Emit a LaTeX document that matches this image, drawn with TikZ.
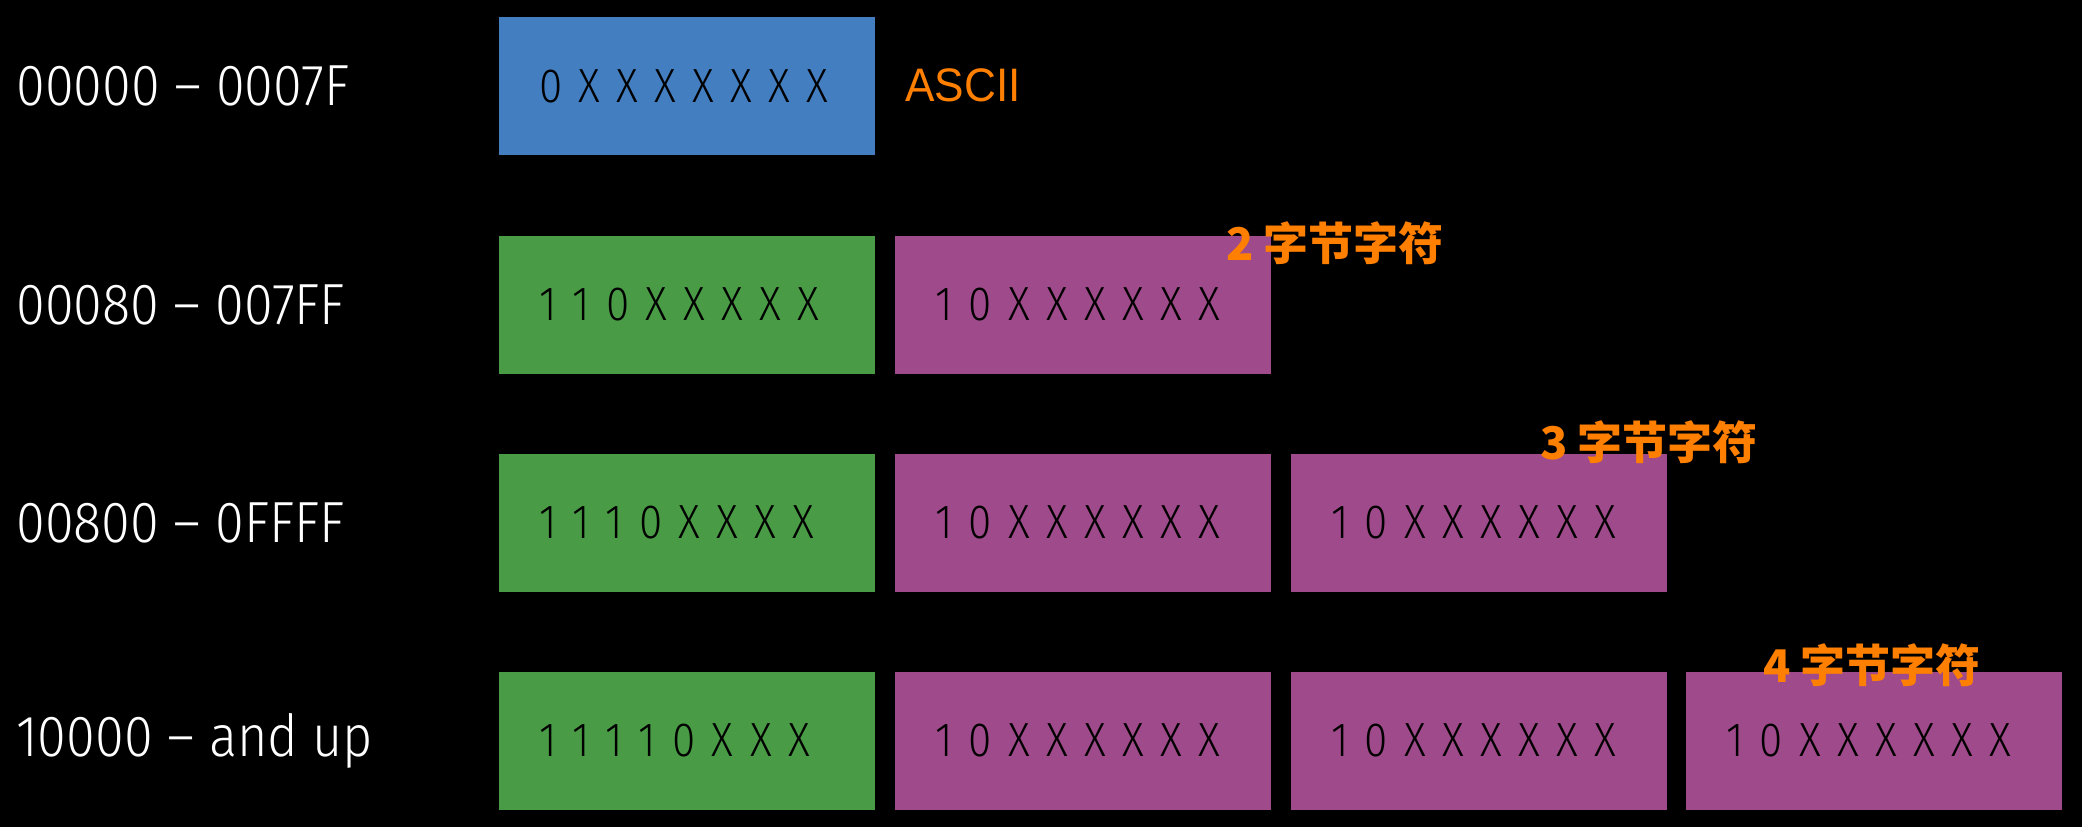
\documentclass[tikz,border=0pt]{standalone}
\usepackage{fontspec}
\usepackage{tikz}
\newfontfamily\rangefont{Fira Sans Light}[FakeStretch=0.9]
\newfontfamily\bitsfont{Fira Sans Light}[FakeStretch=0.88,LetterSpace=34]
\newfontfamily\asciifont{Liberation Sans}[FakeStretch=0.94]
\newfontfamily\cjk{Noto Sans CJK SC}
\definecolor{asciiblue}{RGB}{66,126,192}
\definecolor{leadgreen}{RGB}{73,155,69}
\definecolor{contpurple}{RGB}{159,74,139}
\definecolor{noteorange}{RGB}{255,128,0}
\begin{document}
\begin{tikzpicture}[x=0.5pt,y=-0.5pt,
    bytebox/.style={minimum width=188pt, minimum height=69pt, inner xsep=20pt,
        text width=148pt, align=left, text=black,
        font=\bitsfont\fontsize{24pt}{28pt}\selectfont},
    rangelabel/.style={anchor=west, inner sep=0pt, text=white,
        font=\rangefont\fontsize{29pt}{34pt}\selectfont},
    note/.style={inner sep=0pt, text=noteorange,
        font=\cjk\bfseries\fontsize{22.5pt}{26pt}\selectfont}]
    % Background
    \fill[black] (0,0) rectangle (2082,827);
    \useasboundingbox (0,0) rectangle (2082,827);

    % Code point ranges
    \node[rangelabel] (r1) at (16,86) {00000 – 0007F};
    \node[rangelabel] (r2) at (16,304.5) {00080 – 007FF};
    \node[rangelabel] (r3) at (16,522.5) {00800 – 0FFFF};
    \node[rangelabel] (r4) at (16,740.5) {10000 – and up};

    % 1 byte
    \node[bytebox, fill=asciiblue] (b1a) at (687,86) {0XXXXXXX};

    % 2 bytes
    \node[bytebox, fill=leadgreen] (b2a) at (687,304.5) {110XXXXX};
    \node[bytebox, fill=contpurple] (b2b) at (1083,304.5) {10XXXXXX};

    % 3 bytes
    \node[bytebox, fill=leadgreen] (b3a) at (687,522.5) {1110XXXX};
    \node[bytebox, fill=contpurple] (b3b) at (1083,522.5) {10XXXXXX};
    \node[bytebox, fill=contpurple] (b3c) at (1479,522.5) {10XXXXXX};

    % 4 bytes
    \node[bytebox, fill=leadgreen] (b4a) at (687,740.5) {11110XXX};
    \node[bytebox, fill=contpurple] (b4b) at (1083,740.5) {10XXXXXX};
    \node[bytebox, fill=contpurple] (b4c) at (1479,740.5) {10XXXXXX};
    \node[bytebox, fill=contpurple] (b4d) at (1874,740.5) {10XXXXXX};

    % Labels
    \node[note, anchor=west, font=\asciifont\fontsize{23.5pt}{28pt}\selectfont] (ascii) at (905,85) {ASCII};
    \node[note] (n2) at (1335,243) {2 字节字符};
    \node[note] (n3) at (1649,442) {3 字节字符};
    \node[note] (n4) at (1872,665) {4 字节字符};
\end{tikzpicture}
\end{document}
